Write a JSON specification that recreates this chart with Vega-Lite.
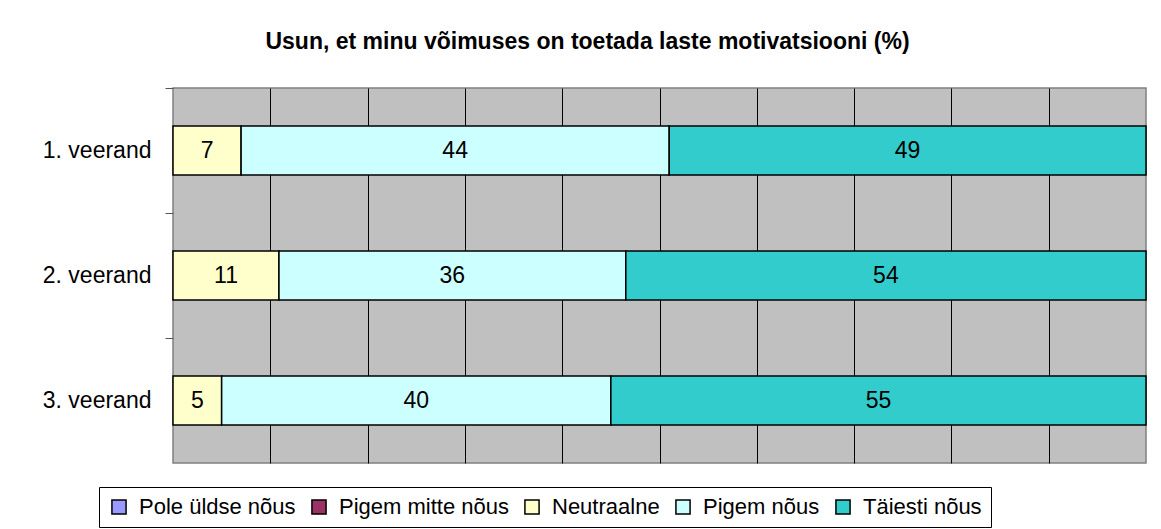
{
  "$schema": "https://vega.github.io/schema/vega-lite/v6.json",
  "width": 973,
  "height": 375,
  "autosize": {"type": "none"},
  "padding": {"left": 173, "top": 88, "right": 15, "bottom": 66},
  "background": "white",
  "title": {
    "text": "Usun, et minu võimuses on toetada laste motivatsiooni (%)",
    "font": "Liberation Sans",
    "fontSize": 23,
    "fontWeight": "bold",
    "color": "#000",
    "anchor": "middle",
    "dx": -72,
    "offset": 16,
    "baseline": "alphabetic"
  },
  "data": {
    "values": [
      {"veerand": "1. veerand", "vastus": "Neutraalne", "v": 7, "k": 3},
      {"veerand": "1. veerand", "vastus": "Pigem nõus", "v": 44, "k": 4},
      {"veerand": "1. veerand", "vastus": "Täiesti nõus", "v": 49, "k": 5},
      {"veerand": "2. veerand", "vastus": "Neutraalne", "v": 11, "k": 3},
      {"veerand": "2. veerand", "vastus": "Pigem nõus", "v": 36, "k": 4},
      {"veerand": "2. veerand", "vastus": "Täiesti nõus", "v": 54, "k": 5},
      {"veerand": "3. veerand", "vastus": "Neutraalne", "v": 5, "k": 3},
      {"veerand": "3. veerand", "vastus": "Pigem nõus", "v": 40, "k": 4},
      {"veerand": "3. veerand", "vastus": "Täiesti nõus", "v": 55, "k": 5}
    ]
  },
  "layer": [
    {
      "mark": {"type": "bar", "stroke": "#000", "strokeWidth": 1.5, "height": {"band": 0.392}},
      "encoding": {
        "y": {
          "field": "veerand",
          "type": "nominal",
          "scale": {"paddingInner": 0, "paddingOuter": 0},
          "axis": {
            "orient": "left",
            "title": null,
            "ticks": false,
            "tickSize": 0,
            "domain": false,
            "grid": false,
            "labelPadding": 22,
            "labelFont": "Liberation Sans",
            "labelFontSize": 23,
            "labelColor": "#000"
          }
        },
        "x": {
          "field": "v",
          "type": "quantitative",
          "stack": "normalize",
          "scale": {"nice": false},
          "axis": {
            "title": null,
            "labels": false,
            "ticks": false,
            "domain": false,
            "grid": true,
            "gridColor": "#000",
            "gridOpacity": 1,
            "gridWidth": 1,
            "values": [0.1, 0.2, 0.3, 0.4, 0.5, 0.6, 0.7, 0.8, 0.9]
          }
        },
        "color": {
          "field": "vastus",
          "type": "nominal",
          "scale": {
            "domain": ["Pole üldse nõus", "Pigem mitte nõus", "Neutraalne", "Pigem nõus", "Täiesti nõus"],
            "range": ["#9999FF", "#993366", "#FFFFCC", "#CCFFFF", "#33CCCC"]
          },
          "legend": {
            "orient": "none",
            "legendX": -74,
            "legendY": 399,
            "direction": "horizontal",
            "columns": 5,
            "title": null,
            "labelFont": "Liberation Sans",
            "labelFontSize": 22,
            "labelColor": "#000",
            "labelLimit": 0,
            "symbolType": "square",
            "symbolSize": 200,
            "symbolStrokeColor": "#000",
            "symbolStrokeWidth": 1.5,
            "symbolOpacity": 1,
            "labelOffset": 9,
            "columnPadding": 12,
            "padding": 9,
            "strokeColor": "#000",
            "fillColor": "#fff"
          }
        },
        "order": {"field": "k"}
      }
    },
    {
      "mark": {"type": "text", "font": "Liberation Sans", "fontSize": 23, "color": "#000"},
      "encoding": {
        "y": {
          "field": "veerand",
          "type": "nominal",
          "axis": {
            "orient": "left",
            "title": null,
            "labels": false,
            "domain": false,
            "grid": false,
            "ticks": true,
            "tickSize": 8,
            "tickColor": "#555",
            "tickWidth": 1,
            "bandPosition": 0
          }
        },
        "x": {"field": "v", "type": "quantitative", "stack": "normalize", "bandPosition": 0.5},
        "text": {"field": "v", "type": "quantitative"},
        "detail": {"field": "vastus"},
        "order": {"field": "k"}
      }
    }
  ],
  "resolve": {"axis": {"y": "independent"}},
  "config": {"view": {"fill": "#C0C0C0", "stroke": "#808080", "strokeWidth": 1.5}}
}
